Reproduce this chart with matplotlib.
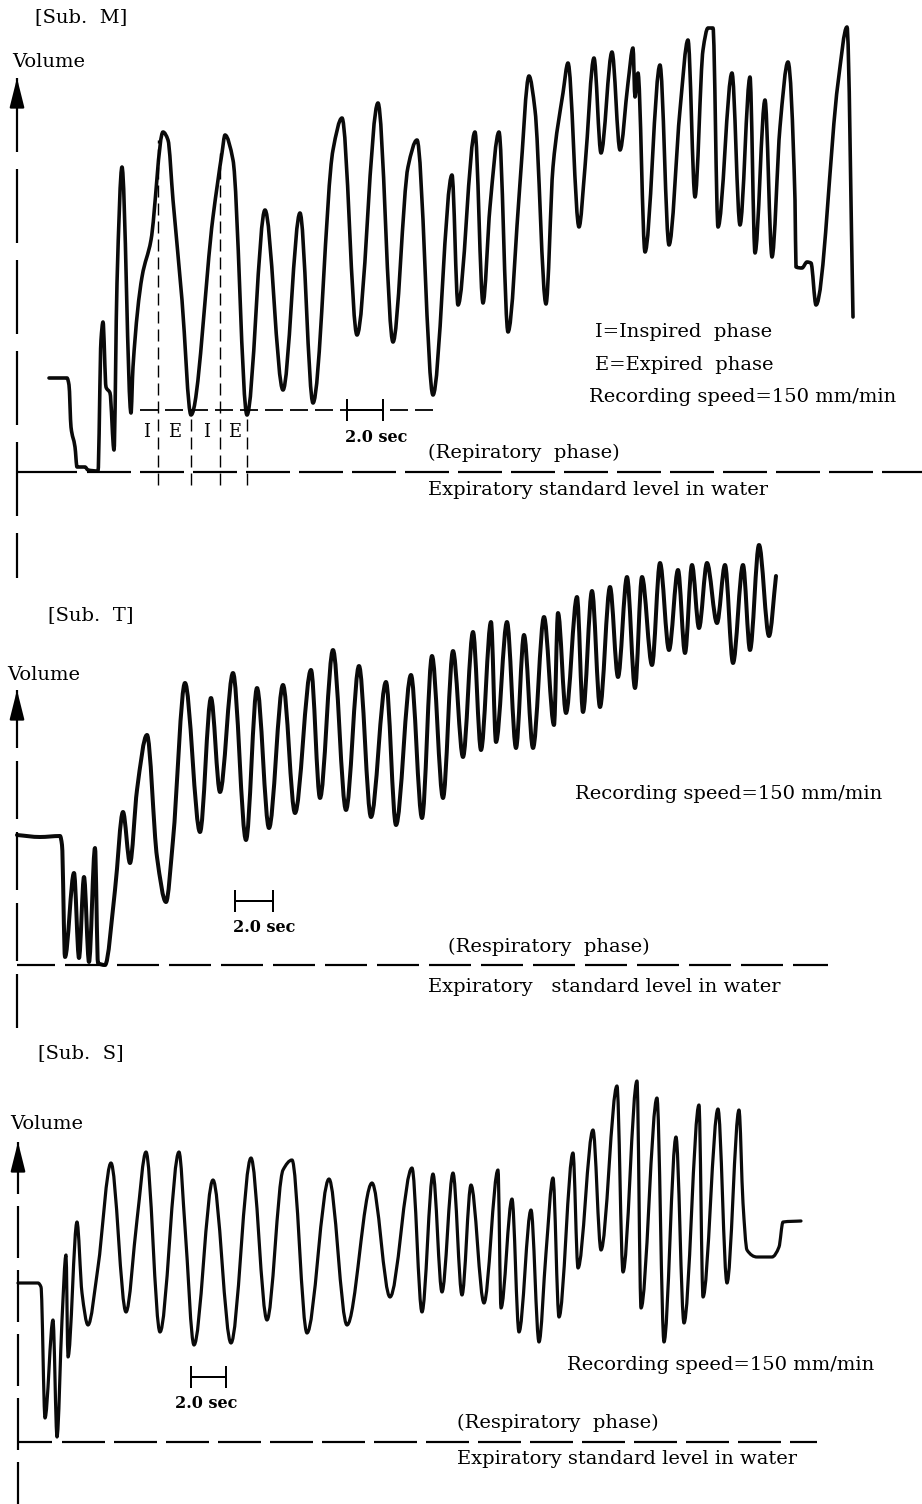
import matplotlib
matplotlib.use("Agg")
import matplotlib.pyplot as plt
from matplotlib.path import Path
from matplotlib.patches import PathPatch

plt.rcParams['lines.scale_dashes'] = False
plt.rcParams['font.family'] = ['DejaVu Serif']

W, H = 922, 1504

# ---------------- data: chart position (x) and volume above expiratory level ----------
# Sub. M
m_t = [49, 67, 69, 71, 75, 77, 85, 88, 98, 101, 103, 106, 110, 114, 117, 122, 131, 133, 142, 151, 163,
       168, 173, 182, 191, 213, 222, 225, 233, 247, 265, 283, 300, 313, 333, 342, 357, 378, 393, 408, 417,
       433, 452, 458, 475, 483, 490, 499, 508, 520, 529, 535, 546, 553, 563, 568, 579, 585, 594, 601, 612,
       620, 628, 633, 635, 638, 645, 660, 669, 680, 688, 695, 703, 708, 713, 718, 732, 740, 750, 755, 765,
       772, 780, 788, 795, 796, 802, 807, 811, 816, 838, 847, 853]
m_v = [94, 94, 87, 45, 25, 5, 5, 2, 1, 132, 150, 85, 79, 22, 189, 305, 59, 105, 195, 232, 340,
       332, 272, 172, 57, 255, 319, 337, 312, 57, 262, 82, 259, 69, 322, 354, 137, 369, 130, 305, 332,
       77, 297, 167, 340, 169, 265, 340, 140, 289, 396, 362, 168, 305, 379, 409, 245, 305, 414, 319, 420,
       322, 389, 424, 375, 399, 220, 407, 227, 362, 432, 275, 422, 444, 444, 245, 399, 247, 395, 219, 372,
       215, 345, 410, 272, 205, 204, 210, 209, 167, 389, 445, 155]

# Sub. T
t_t = [17, 40, 60, 62, 65, 74, 79, 84, 89, 95, 98, 105, 115, 123, 130, 137, 147, 157, 166, 173, 185,
       200, 211, 220, 233, 246, 257, 269, 283, 295, 311, 320, 333, 346, 359, 371, 386, 396, 411, 422, 432,
       443, 453, 463, 473, 481, 491, 496, 507, 516, 524, 533, 544, 554, 558, 566, 577, 583, 592, 600, 610,
       618, 627, 635, 642, 652, 660, 669, 678, 685, 692, 699, 707, 717, 725, 733, 743, 750, 759, 769, 776]
t_v = [130, 128, 129, 120, 8, 92, 7, 88, 3, 117, 2, 0, 75, 153, 102, 175, 230, 108, 63, 125, 282,
       133, 267, 173, 292, 125, 277, 137, 280, 152, 295, 167, 315, 155, 299, 148, 283, 140, 290, 147, 309,
       167, 314, 208, 333, 215, 343, 223, 343, 217, 330, 217, 348, 240, 352, 252, 368, 253, 374, 258, 378,
       288, 388, 277, 388, 300, 402, 315, 395, 312, 400, 337, 402, 342, 400, 302, 400, 315, 420, 329, 389]

# Sub. S
s_t = [18, 38, 41, 45, 53, 57, 62, 66, 68, 77, 82, 88, 98, 111, 126, 137, 146, 160, 179, 185, 194,
       213, 231, 251, 267, 283, 292, 307, 329, 347, 372, 390, 412, 422, 433, 442, 453, 462, 471, 484, 498,
       501, 512, 519, 531, 539, 546, 553, 559, 573, 578, 593, 601, 617, 623, 637, 641, 657, 664, 676, 684,
       699, 703, 718, 727, 739, 743, 747, 757, 772, 779, 783, 801]
s_v = [159, 159, 155, 24, 122, 5, 122, 187, 85, 220, 149, 117, 175, 279, 130, 222, 290, 110, 290, 215, 97,
       262, 99, 284, 122, 272, 282, 109, 263, 117, 259, 145, 274, 130, 268, 150, 269, 147, 257, 139, 272,
       134, 243, 110, 232, 100, 189, 264, 125, 289, 174, 312, 192, 356, 170, 361, 134, 344, 100, 305, 119,
       337, 145, 333, 159, 332, 239, 192, 185, 185, 195, 220, 221]

scale_label = "2.0 sec"
speed_label = "Recording speed=150 mm/min"
std_label = "Expiratory standard level in water"

fig = plt.figure(figsize=(W / 100, H / 100), dpi=100)


def pt(p):
    return p * 72.0 / 100.0


def panel(top, bot, base):
    ax = fig.add_axes([0, 1 - bot / H, 1, (bot - top) / H])
    ax.set_xlim(0, W)
    ax.set_ylim(base - bot, base - top)
    ax.axis('off')
    return ax


def txt(ax, base, x, y, s, size=14, ha='left', weight='normal'):
    ax.text(x, base - y, s, fontsize=size, ha=ha, va='center', color='black',
            fontweight=weight)


def vaxis(ax, base, x, ytop, ybot, on, off):
    ax.plot([x, x], [base - ytop, base - ybot], color='k', lw=pt(2.2),
            dashes=(pt(on), pt(off)), solid_capstyle='butt', clip_on=False)
    ax.annotate('', xy=(x, base - ytop), xytext=(x, base - ytop - 30),
                arrowprops=dict(arrowstyle='-|>,head_length=1.2,head_width=0.3',
                                color='k', lw=pt(2.2), mutation_scale=15,
                                shrinkA=0, shrinkB=0))


def baseline(ax, x0, xs, x1, on=42, off=9):
    ax.plot([x0, xs], [0, 0], color='k', lw=pt(2.2), solid_capstyle='butt')
    ax.plot([xs + 10, x1], [0, 0], color='k', lw=pt(2.2),
            dashes=(pt(on), pt(off)))


def scalebar(ax, base, x0, x1, y):
    ax.plot([x0, x1], [base - y, base - y], color='k', lw=pt(2))
    for xx in (x0, x1):
        ax.plot([xx, xx], [base - y - 10, base - y + 10], color='k', lw=pt(2))


def trace(ax, x, y, lw):
    """Smooth pen trace through the read points (monotone cubic Bezier rendering)."""
    n = len(x)
    d = [(y[i + 1] - y[i]) / (x[i + 1] - x[i]) for i in range(n - 1)]
    m = [0.0] * n
    m[0], m[-1] = d[0], d[-1]
    for i in range(1, n - 1):
        if d[i - 1] * d[i] <= 0:
            m[i] = 0.0
        else:
            h0, h1 = x[i] - x[i - 1], x[i + 1] - x[i]
            w1, w2 = 2 * h1 + h0, h1 + 2 * h0
            m[i] = (w1 + w2) / (w1 / d[i - 1] + w2 / d[i])
    verts = [(x[0], y[0])]
    codes = [Path.MOVETO]
    for i in range(n - 1):
        h = x[i + 1] - x[i]
        verts += [(x[i] + h / 3, y[i] + m[i] * h / 3),
                  (x[i + 1] - h / 3, y[i + 1] - m[i + 1] * h / 3),
                  (x[i + 1], y[i + 1])]
        codes += [Path.CURVE4] * 3
    patch = PathPatch(Path(verts, codes), fill=False, edgecolor='#0a0a0a', lw=pt(lw),
                      joinstyle='round', capstyle='round', clip_on=False)
    ax.add_patch(patch)


# ---------------- Sub. M ----------------
bM = 472
axM = panel(0, 585, bM)
trace(axM, m_t, m_v, 3.6)
vaxis(axM, bM, 17, 78, 578, 74, 17)
baseline(axM, 17, 77, 922, 44, 9)
axM.plot([140, 438], [bM - 410, bM - 410], color='k', lw=pt(1.8), dashes=(pt(18), pt(7)))
for xx, ytop in [(158, 140), (191, 415), (220, 153), (247, 417)]:
    axM.plot([xx, xx], [bM - 485, bM - ytop], color='k', lw=pt(1.4), dashes=(pt(12), pt(6)))
scalebar(axM, bM, 347, 383, 410)
for xx, s in [(147, 'I'), (175, 'E'), (207, 'I'), (235, 'E')]:
    txt(axM, bM, xx, 432, s, 13, ha='center')
txt(axM, bM, 35, 17, "[Sub.  M]")
txt(axM, bM, 12, 62, "Volume")
txt(axM, bM, 595, 332, "I=Inspired  phase")
txt(axM, bM, 595, 365, "E=Expired  phase")
txt(axM, bM, 589, 397, speed_label)
txt(axM, bM, 428, 453, "(Repiratory  phase)")
txt(axM, bM, 428, 490, std_label)
txt(axM, bM, 345, 437, scale_label, 11.5, weight='bold')

# ---------------- Sub. T ----------------
bT = 965
axT = panel(585, 1035, bT)
trace(axT, t_t, t_v, 4.0)
vaxis(axT, bT, 17, 690, 1028, 58, 13)
baseline(axT, 17, 55, 828, 42, 10)
scalebar(axT, bT, 235, 273, 901)
txt(axT, bT, 48, 615, "[Sub.  T]")
txt(axT, bT, 7, 675, "Volume")
txt(axT, bT, 575, 794, speed_label)
txt(axT, bT, 233, 927, scale_label, 11.5, weight='bold')
txt(axT, bT, 448, 947, "(Respiratory  phase)")
txt(axT, bT, 428, 987, "Expiratory   standard level in water")

# ---------------- Sub. S ----------------
bS = 1442
axS = panel(1035, 1504, bS)
trace(axS, s_t, s_v, 3.2)
vaxis(axS, bS, 18, 1142, 1504, 52, 12)
baseline(axS, 18, 52, 817, 43, 9)
scalebar(axS, bS, 191, 226, 1377)
txt(axS, bS, 38, 1053, "[Sub.  S]")
txt(axS, bS, 10, 1124, "Volume")
txt(axS, bS, 567, 1365, speed_label)
txt(axS, bS, 175, 1403, scale_label, 11.5, weight='bold')
txt(axS, bS, 457, 1423, "(Respiratory  phase)")
txt(axS, bS, 457, 1459, std_label)

fig.savefig("out.png", dpi=100, facecolor='white')
